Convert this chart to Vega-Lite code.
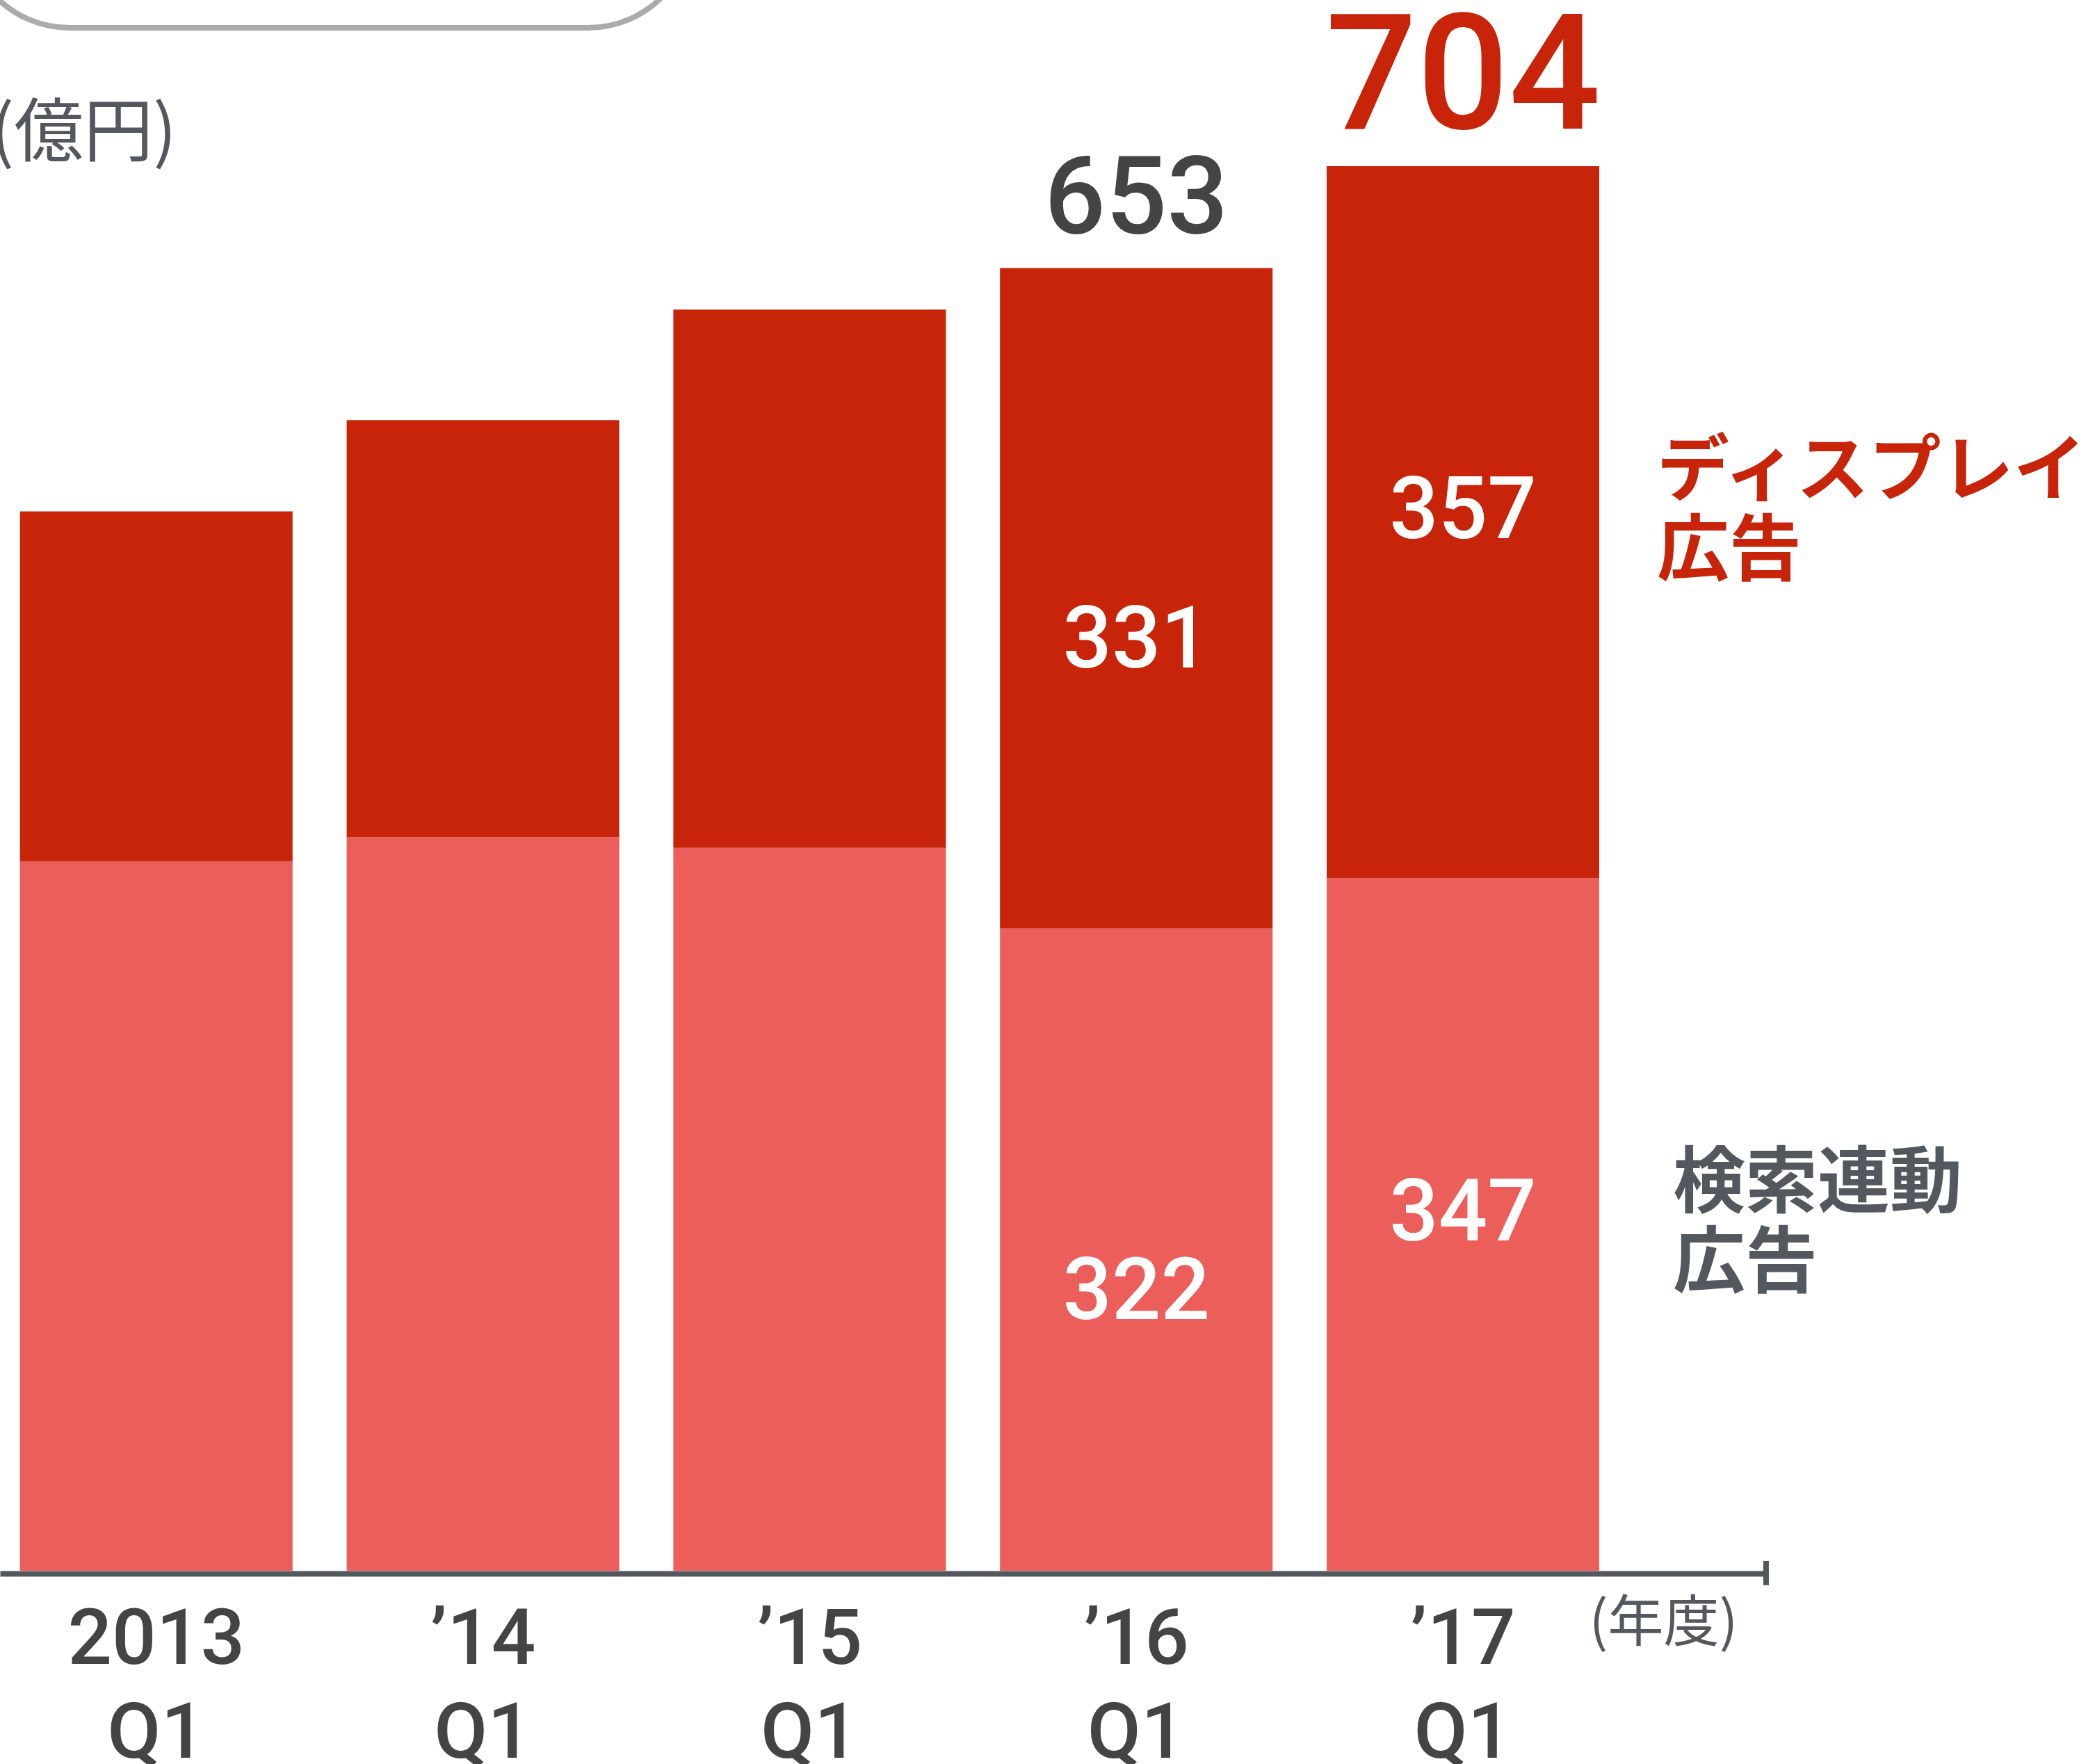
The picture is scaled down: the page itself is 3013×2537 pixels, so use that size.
{
  "$schema": "https://vega.github.io/schema/vega-lite/v6.json",
  "width": 2540,
  "height": 2238,
  "autosize": {"type": "none"},
  "padding": {"left": 0, "top": 21, "right": 473, "bottom": 278},
  "background": "white",
  "config": {"view": {"stroke": null}},
  "data": {
    "values": [
      {"year": "2013", "series": "検索連動広告", "value": 355.6},
      {"year": "2013", "series": "ディスプレイ広告", "value": 175.4},
      {"year": "’14", "series": "検索連動広告", "value": 367.5},
      {"year": "’14", "series": "ディスプレイ広告", "value": 209.2},
      {"year": "’15", "series": "検索連動広告", "value": 362.3},
      {"year": "’15", "series": "ディスプレイ広告", "value": 269.8},
      {"year": "’16", "series": "検索連動広告", "value": 322},
      {"year": "’16", "series": "ディスプレイ広告", "value": 331},
      {"year": "’17", "series": "検索連動広告", "value": 347},
      {"year": "’17", "series": "ディスプレイ広告", "value": 357}
    ]
  },
  "transform": [
    {"stack": "value", "groupby": ["year"], "sort": [{"field": "series", "order": "descending"}], "as": ["v0", "v1"]},
    {"calculate": "(datum.v0 + datum.v1) / 2", "as": "mid"}
  ],
  "layer": [
    {
      "mark": {"type": "bar"},
      "encoding": {
        "x": {
          "field": "year", "type": "nominal",
          "scale": {"domain": ["2013", "’14", "’15", "’16", "’17"], "paddingInner": 0.1656, "paddingOuter": 0.286, "align": 0.107},
          "axis": {
            "title": "(年度)", "titleX": 2392, "titleY": 72, "titleAlign": "center", "titleBaseline": "middle",
            "titleFont": "Noto Sans CJK JP", "titleFontSize": 80, "titleFontWeight": "normal", "titleColor": "#53575E",
            "labelExpr": "[datum.value, 'Q1']", "labelFont": "Roboto", "labelFontWeight": 500, "labelFontSize": 112, "labelColor": "#444444",
            "labelLineHeight": 135, "labelPadding": 41, "labelAngle": 0, "labelBaseline": "top", "labelLimit": 0,
            "ticks": false, "tickSize": 0, "domainColor": "#53575E", "domainWidth": 8, "offset": 4, "grid": false
          }
        },
        "y": {
          "field": "v0", "type": "quantitative",
          "scale": {"domain": [0, 780], "nice": false},
          "axis": {
            "title": "(億円)", "domain": false, "ticks": false, "labels": false, "grid": false,
            "titleAngle": 0, "titleX": -14, "titleY": 172, "titleAlign": "left", "titleBaseline": "middle",
            "titleFont": "Noto Sans CJK JP", "titleFontSize": 100, "titleFontWeight": "normal", "titleColor": "#53575E"
          }
        },
        "y2": {"field": "v1"},
        "color": {
          "field": "series", "type": "nominal",
          "scale": {"domain": ["ディスプレイ広告", "検索連動広告"], "range": ["#C7240A", "#EC5E59"]},
          "legend": null
        }
      }
    },
    {
      "transform": [{"filter": "datum.year === '’16'"}],
      "mark": {"type": "text", "color": "white", "font": "Roboto", "fontWeight": 500, "fontSize": 124, "baseline": "middle", "dy": 63},
      "encoding": {
        "x": {"field": "year", "type": "nominal"},
        "y": {"field": "mid", "type": "quantitative"},
        "text": {"field": "value", "type": "quantitative", "format": "d"}
      }
    },
    {
      "transform": [{"filter": "datum.year === '’17'"}],
      "mark": {"type": "text", "color": "white", "font": "Roboto", "fontWeight": 500, "fontSize": 124, "baseline": "middle", "dy": -14},
      "encoding": {
        "x": {"field": "year", "type": "nominal"},
        "y": {"field": "mid", "type": "quantitative"},
        "text": {"field": "value", "type": "quantitative", "format": "d"}
      }
    },
    {
      "transform": [{"filter": "datum.year === '’16'"}],
      "mark": {"type": "text", "color": "#444444", "font": "Roboto", "fontWeight": 500, "fontSize": 155, "baseline": "alphabetic", "dy": -50},
      "encoding": {
        "x": {"field": "year", "type": "nominal"},
        "y": {"aggregate": "sum", "field": "value", "type": "quantitative"},
        "text": {"aggregate": "sum", "field": "value", "type": "quantitative", "format": "d"}
      }
    },
    {
      "transform": [{"filter": "datum.year === '’17'"}],
      "mark": {"type": "text", "color": "#C7240A", "font": "Roboto", "fontWeight": 500, "fontSize": 232, "baseline": "alphabetic", "dy": -54},
      "encoding": {
        "x": {"field": "year", "type": "nominal"},
        "y": {"aggregate": "sum", "field": "value", "type": "quantitative"},
        "text": {"aggregate": "sum", "field": "value", "type": "quantitative", "format": "d"}
      }
    },
    {
      "transform": [{"filter": "datum.year === '’17' && datum.series === 'ディスプレイ広告'"}],
      "mark": {"type": "text", "text": ["ディスプレイ", "広告"], "color": "#C7240A", "font": "Noto Sans CJK JP", "fontWeight": "bold", "fontSize": 104, "lineHeight": 115, "align": "left", "baseline": "middle", "dx": 279, "dy": -70},
      "encoding": {
        "x": {"field": "year", "type": "nominal"},
        "y": {"field": "mid", "type": "quantitative"}
      }
    },
    {
      "transform": [{"filter": "datum.year === '’17' && datum.series === '検索連動広告'"}],
      "mark": {"type": "text", "text": ["検索連動", "広告"], "color": "#53575E", "font": "Noto Sans CJK JP", "fontWeight": "bold", "fontSize": 104, "lineHeight": 115, "align": "left", "baseline": "middle", "dx": 302, "dy": -56},
      "encoding": {
        "x": {"field": "year", "type": "nominal"},
        "y": {"field": "mid", "type": "quantitative"}
      }
    },
    {
      "data": {"values": [{"part": "box"}]},
      "mark": {"type": "rect", "filled": false, "stroke": "#ABABAB", "strokeWidth": 8, "cornerRadius": 150},
      "encoding": {
        "x": {"datum": "2013", "type": "nominal", "bandPosition": -0.2},
        "x2": {"datum": "’15", "bandPosition": 0.07},
        "y": {"datum": 773.4, "type": "quantitative"},
        "y2": {"datum": 900}
      }
    },
    {
      "data": {"values": [{"part": "tick"}]},
      "mark": {"type": "rule", "stroke": "#53575E", "strokeWidth": 8},
      "encoding": {
        "x": {"datum": "’17", "type": "nominal", "bandPosition": 1.612},
        "y": {"datum": 4.9, "type": "quantitative"},
        "y2": {"datum": -7.3}
      }
    }
  ]
}
